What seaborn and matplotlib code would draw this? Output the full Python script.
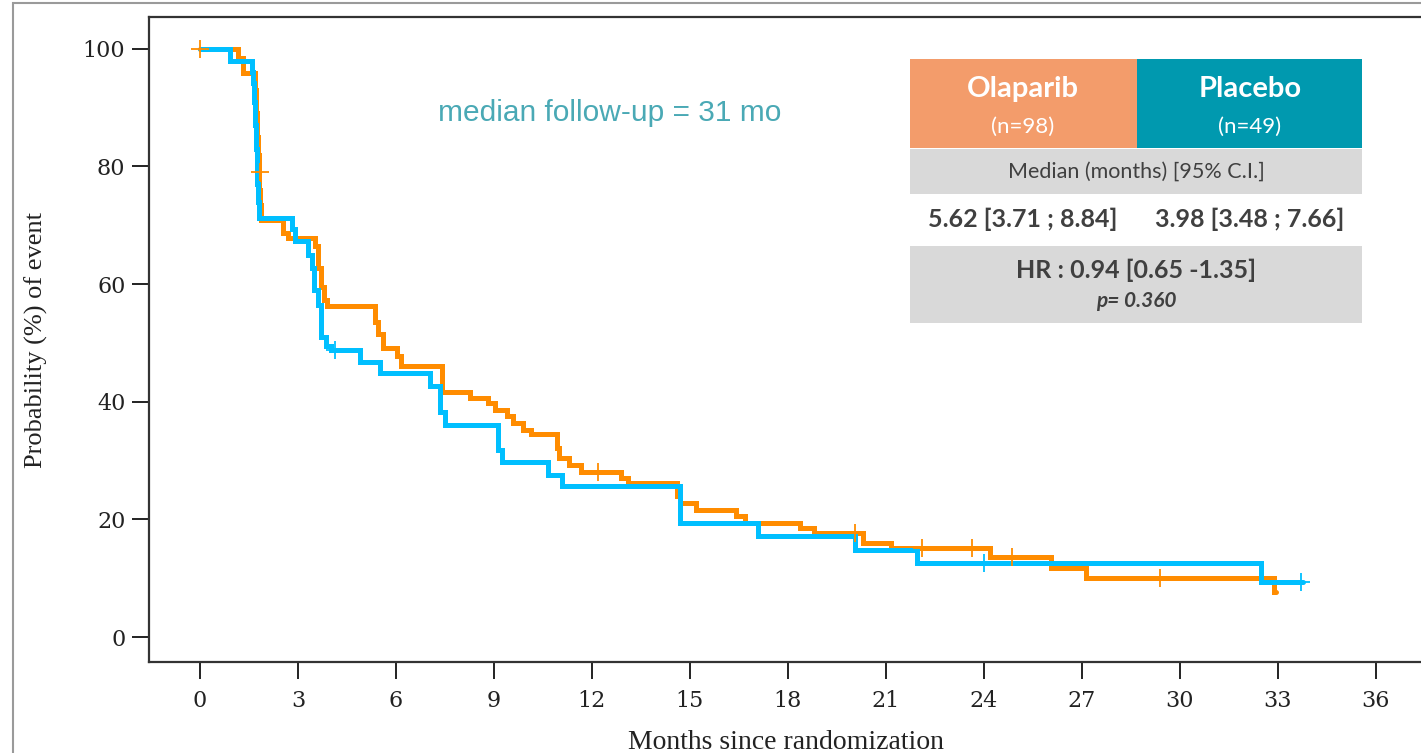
import matplotlib
matplotlib.use('Agg')
import matplotlib.pyplot as plt
from matplotlib.patches import Rectangle
import numpy as np
import pandas as pd
import seaborn as sns

# Kaplan-Meier step data (months, % probability)
olaparib_time = [0, 1.17, 1.32, 1.68, 1.72, 1.75, 1.77, 1.80, 1.82, 1.84, 1.86,
                 2.54, 2.70, 3.52, 3.60, 3.72, 3.80, 3.88, 5.36, 5.45, 5.60,
                 6.02, 6.17, 7.40, 8.26, 8.82, 9.03, 9.39, 9.59, 9.89, 10.15,
                 10.92, 11.00, 11.30, 11.68, 12.90, 13.10, 14.60, 14.70, 15.20,
                 16.40, 16.70, 18.37, 18.80, 20.30, 21.17, 24.18, 26.07, 27.14,
                 32.90, 32.95]
olaparib_surv = [100, 98.5, 95.9, 93.0, 89.0, 85.0, 82.0, 79.5, 76.0, 73.5, 70.9,
                 68.7, 67.8, 66.4, 62.7, 59.5, 57.3, 56.2, 53.5, 51.5, 49.1,
                 47.7, 46.0, 41.7, 40.6, 39.7, 38.6, 37.5, 36.4, 35.2, 34.5,
                 32.1, 30.4, 29.3, 28.1, 27.0, 26.2, 24.0, 22.8, 21.6,
                 20.5, 19.4, 18.5, 17.6, 16.0, 15.1, 13.6, 11.7, 10.0,
                 7.7, 7.7]
olaparib_cens_time = [0, 1.84, 12.2, 20.05, 22.1, 23.65, 24.85, 29.38]
olaparib_cens_surv = [100, 79.1, 28.1, 17.6, 15.1, 15.1, 13.6, 10.0]

placebo_time = [0, 0.92, 1.58, 1.62, 1.66, 1.69, 1.72, 1.74, 1.76, 1.78, 1.80,
                2.81, 2.91, 3.30, 3.42, 3.50, 3.60, 3.70, 3.85, 4.00, 4.90,
                5.50, 7.04, 7.35, 7.50, 9.12, 9.25, 10.65, 11.10, 14.69, 17.08,
                20.05, 21.94, 32.50, 33.77]
placebo_surv = [100, 98.0, 96.1, 94.2, 91.0, 87.0, 83.0, 80.0, 77.0, 74.0, 71.3,
                69.3, 67.3, 64.9, 62.7, 59.0, 56.5, 51.0, 49.5, 48.8, 46.8,
                44.9, 42.6, 38.3, 36.1, 31.8, 29.8, 27.6, 25.6, 19.4, 17.1,
                14.8, 12.6, 9.4, 9.4]
placebo_cens_time = [4.13, 24.0, 33.7]
placebo_cens_surv = [48.8, 12.6, 9.4]

x_ticks = list(range(0, 37, 3))
y_ticks = list(range(0, 101, 20))

arm_colors = {'Olaparib': '#FF8C00', 'Placebo': '#00BFFF'}

sns.set_style('white')
plt.rcParams['font.family'] = ['Liberation Serif', 'DejaVu Serif']

fig = plt.figure(figsize=(14.21, 7.53), dpi=100)
ax = fig.add_axes([149 / 1421, 91 / 753, 1279 / 1421, 645 / 753])

curves = [('Olaparib', olaparib_time, olaparib_surv, olaparib_cens_time, olaparib_cens_surv),
          ('Placebo', placebo_time, placebo_surv, placebo_cens_time, placebo_cens_surv)]
for arm, t, s, ct, cs in curves:
    df = pd.DataFrame({'time': t, 'surv': s})
    sns.lineplot(data=df, x='time', y='surv', ax=ax, color=arm_colors[arm],
                 drawstyle='steps-post', estimator=None, sort=False,
                 linewidth=3.6, solid_joinstyle='miter')
    cens = pd.DataFrame({'time': ct, 'surv': cs})
    sns.scatterplot(data=cens, x='time', y='surv', ax=ax, color=arm_colors[arm],
                    marker='+', s=160, linewidth=1.3, zorder=5)

ax.set_xlim(-1.56, 37.6)
ax.set_ylim(-4.25, 105.4)
ax.set_xticks(x_ticks)
ax.set_yticks(y_ticks)
ax.tick_params(bottom=True, left=True, direction='out', length=12, width=1.4,
               colors='#222222', labelsize=16)
ax.tick_params(axis='y', pad=5)
ax.tick_params(axis='x', pad=8)
for lab in ax.get_xticklabels() + ax.get_yticklabels():
    lab.set_family(['DejaVu Serif'])
for side in ['left', 'bottom', 'top']:
    ax.spines[side].set_color('#333333')
    ax.spines[side].set_linewidth(1.6)
ax.spines['right'].set_visible(False)

ax.set_xlabel('Months since randomization', fontsize=20, color='#222222')
ax.set_ylabel('Probability (%) of event', fontsize=19, color='#222222')
ax.xaxis.set_label_coords(0.498, -0.106)
ax.yaxis.set_label_coords(-0.079, 0.5)

ax.text(0.36, 0.851, 'median follow-up = 31 mo', transform=ax.transAxes,
        ha='center', va='center', fontsize=21.5, color='#4AA9B5',
        family=['Liberation Sans', 'DejaVu Sans'])

# outer frame
fig.patches.append(Rectangle((13 / 1421, -0.1), 1.2, 1.096, transform=fig.transFigure,
                             fill=False, edgecolor='#9A9A9A', linewidth=1.5))

# summary table in pixel space
ov = fig.add_axes([0, 0, 1, 1], facecolor='none')
ov.set_xlim(0, 1421)
ov.set_ylim(753, 0)
ov.axis('off')
tf = ['Lato', 'DejaVu Sans']
ov.add_patch(Rectangle((910, 59), 227, 89, color='#F39C6B', lw=0))
ov.add_patch(Rectangle((1137, 59), 225, 89, color='#0099AF', lw=0))
ov.add_patch(Rectangle((910, 149), 452, 45, color='#D9D9D9', lw=0))
ov.add_patch(Rectangle((910, 246), 452, 77, color='#D9D9D9', lw=0))
ov.text(1023, 89, 'Olaparib', ha='center', va='center', color='white',
        fontsize=21, fontweight='bold', family=tf)
ov.text(1023, 127, '(n=98)', ha='center', va='center', color='white',
        fontsize=16, family=tf)
ov.text(1250, 89, 'Placebo', ha='center', va='center', color='white',
        fontsize=21, fontweight='bold', family=tf)
ov.text(1250, 127, '(n=49)', ha='center', va='center', color='white',
        fontsize=16, family=tf)
ov.text(1136, 172, 'Median (months) [95% C.I.]', ha='center', va='center',
        color='#404040', fontsize=15.5, family=tf)
ov.text(1023, 219, '5.62 [3.71 ; 8.84]', ha='center', va='center',
        color='#404040', fontsize=18, fontweight='bold', family=tf)
ov.text(1250, 219, '3.98 [3.48 ; 7.66]', ha='center', va='center',
        color='#404040', fontsize=18, fontweight='bold', family=tf)
ov.text(1136, 270, 'HR : 0.94 [0.65 -1.35]', ha='center', va='center',
        color='#404040', fontsize=18, fontweight='bold', family=tf)
ov.text(1136, 301, 'p= 0.360', ha='center', va='center', color='#404040',
        fontsize=15, fontweight='bold', style='italic', family=tf)

fig.savefig('out.png', dpi=100)
